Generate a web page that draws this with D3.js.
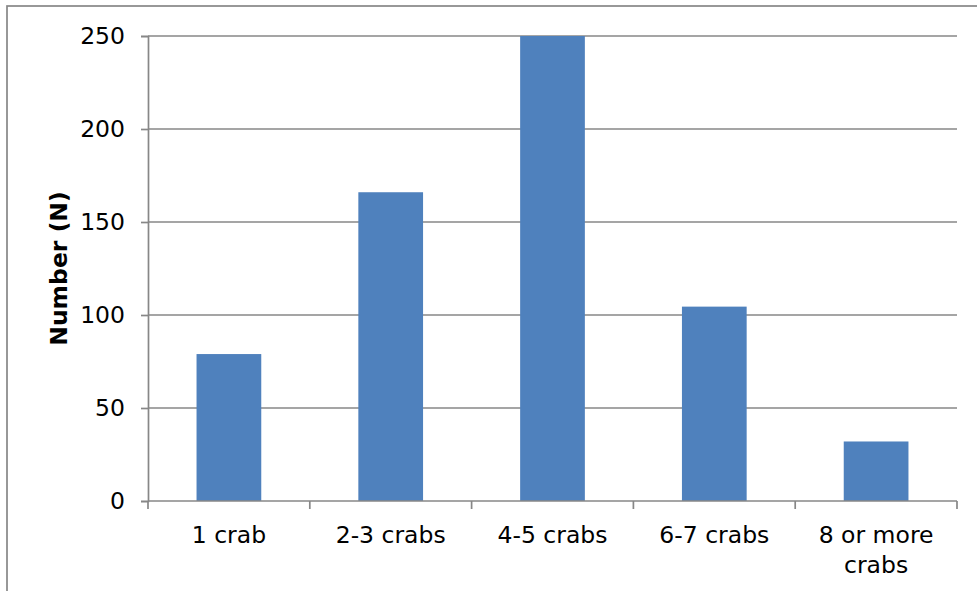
<!DOCTYPE html>
<html>
<head>
<meta charset="utf-8">
<script src="https://cdn.jsdelivr.net/npm/d3@7"></script>
<style>
  html, body { margin: 0; padding: 0; background: #fff; }
  svg { display: block; }
  text { font-family: "DejaVu Sans", Verdana, sans-serif; fill: #000; }
</style>
</head>
<body>
<svg id="chart" width="977" height="591"></svg>
<script>
const categories = ["1 crab", "2-3 crabs", "4-5 crabs", "6-7 crabs", "8 or more crabs"];
const values = [79, 166, 250, 104.5, 32];
const yTicks = [0, 50, 100, 150, 200, 250];
const yTitle = "Number (N)";

const svg = d3.select("#chart");
const plot = { left: 148, right: 957, top: 36, bottom: 501 };
const grey = "#878787";

// outer frame (right and bottom are cropped off)
svg.append("rect")
  .attr("x", 7).attr("y", 6)
  .attr("width", 1100).attr("height", 800)
  .attr("fill", "#fff")
  .attr("stroke", grey).attr("stroke-width", 1.7);

const x = d3.scaleBand()
  .domain(categories)
  .range([plot.left, plot.right])
  .paddingInner(0.6)
  .paddingOuter(0.3);

const y = d3.scaleLinear()
  .domain([0, 250])
  .range([plot.bottom, plot.top]);

// gridlines
svg.append("g")
  .selectAll("line")
  .data(yTicks.filter(d => d > 0))
  .join("line")
  .attr("x1", plot.left).attr("x2", plot.right)
  .attr("y1", d => y(d)).attr("y2", d => y(d))
  .attr("stroke", grey).attr("stroke-width", 1.7);

// bars
svg.append("g")
  .selectAll("rect")
  .data(values)
  .join("rect")
  .attr("x", (d, i) => x(categories[i]))
  .attr("width", x.bandwidth())
  .attr("y", d => y(d))
  .attr("height", d => y(0) - y(d))
  .attr("fill", "#4F81BD");

// y axis
const yAxis = svg.append("g")
  .attr("transform", `translate(${plot.left},0)`)
  .call(d3.axisLeft(y).tickValues(yTicks).tickSize(7).tickPadding(16).tickFormat(d3.format("d")));
yAxis.select(".domain").attr("stroke", grey).attr("stroke-width", 1.7);
yAxis.selectAll(".tick line").attr("stroke", grey).attr("stroke-width", 1.7);
yAxis.selectAll(".tick text")
  .attr("font-size", 23.5)
  .attr("font-family", "DejaVu Sans, Verdana, sans-serif")
  .attr("fill", "#000");

// x axis: line and boundary ticks
const xg = svg.append("g");
xg.append("line")
  .attr("x1", plot.left).attr("x2", plot.right)
  .attr("y1", y(0)).attr("y2", y(0))
  .attr("stroke", grey).attr("stroke-width", 1.7);
xg.selectAll("line.bt")
  .data(categories.concat([null]))
  .join("line")
  .attr("class", "bt")
  .attr("x1", (d, i) => plot.left + i * x.step())
  .attr("x2", (d, i) => plot.left + i * x.step())
  .attr("y1", y(0)).attr("y2", y(0) + 8)
  .attr("stroke", grey).attr("stroke-width", 1.7);

// category labels (wrap long one)
const labelLines = c => c === "8 or more crabs" ? ["8 or more", "crabs"] : [c];
xg.selectAll("text.cat")
  .data(categories)
  .join("text")
  .attr("class", "cat")
  .attr("text-anchor", "middle")
  .attr("font-size", 23.5)
  .attr("x", d => x(d) + x.bandwidth() / 2)
  .attr("y", 543)
  .each(function(d) {
    const t = d3.select(this);
    labelLines(d).forEach((ln, k) => {
      t.append("tspan")
        .attr("x", x(d) + x.bandwidth() / 2)
        .attr("dy", k === 0 ? 0 : 29.5)
        .text(ln);
    });
  });

// y title
svg.append("text")
  .attr("transform", `translate(67,${(plot.top + plot.bottom) / 2}) rotate(-90)`)
  .attr("text-anchor", "middle")
  .attr("font-size", 23.5)
  .attr("font-weight", "bold")
  .text(yTitle);
</script>
</body>
</html>
